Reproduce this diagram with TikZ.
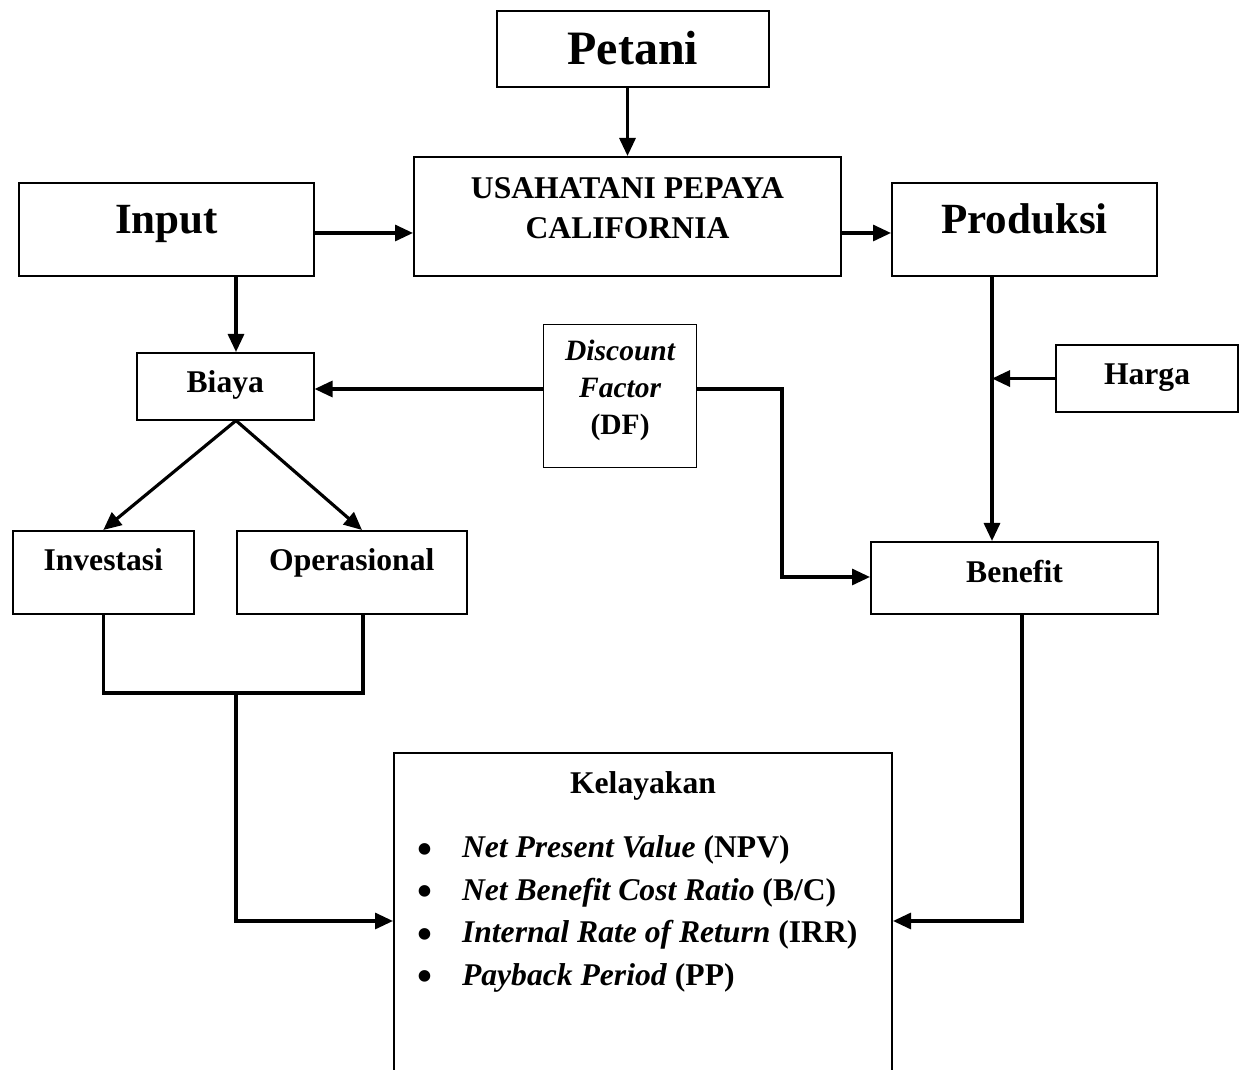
\documentclass[tikz,border=0pt]{standalone}
\usepackage{fontspec}
\usepackage{graphicx}
\setmainfont{Liberation Serif}
\usetikzlibrary{arrows.meta}
\newcommand{\kbul}{\makebox[0.9cm][l]{\raisebox{-0.4ex}{\scalebox{1.35}{\textbullet}}}}
\begin{document}
\begin{tikzpicture}[x=0.02cm,y=-0.02cm,
  box/.style={draw, line width=1.2pt, rectangle, inner sep=0pt, anchor=north west,
    font=\bfseries\fontsize{18}{22.8}\selectfont},
  thinbox/.style={box, line width=0.9pt},
  conn/.style={line width=1.8pt},
  arr/.style={conn, -{Triangle[length=0.36cm,width=0.32cm]}},
]
\useasboundingbox (0,0) rectangle (1242,1070);
\clip (0,0) rectangle (1242,1070);

% boxes
\node[thinbox, minimum width=5.44cm, text height=1.08cm, text depth=0.44cm,
  font=\bfseries\fontsize{27.3}{32}\selectfont] (petani) at (496,10) {Petani};
\node[box, minimum width=8.54cm, text height=0.82cm, text depth=1.56cm] (usaha) at (413,156)
  {\begin{tabular}[t]{@{}c@{}}USAHATANI PEPAYA\\CALIFORNIA\end{tabular}};
\node[box, minimum width=5.9cm, text height=1.0cm, text depth=0.86cm,
  font=\bfseries\fontsize{24.5}{28}\selectfont] (input) at (18,182) {Input};
\node[box, minimum width=5.3cm, text height=1.0cm, text depth=0.86cm,
  font=\bfseries\fontsize{24.5}{28}\selectfont] (produksi) at (891,182) {Produksi};
\node[thinbox, minimum width=3.54cm, text height=0.8cm, text depth=0.54cm] (biaya) at (136,352) {Biaya};
\node[box, line width=0.7pt, minimum width=3.06cm, text height=0.72cm, text depth=2.14cm,
  font=\bfseries\fontsize{16.8}{21}\selectfont] (df) at (543,324)
  {\begin{tabular}[t]{@{}c@{}}\itshape Discount\\\itshape Factor\\(DF)\end{tabular}};
\node[box, minimum width=3.64cm, text height=0.78cm, text depth=0.56cm] (harga) at (1055,344) {Harga};
\node[thinbox, minimum width=3.62cm, text height=0.8cm, text depth=0.86cm] (inv) at (12,530) {Investasi};
\node[thinbox, minimum width=4.6cm, text height=0.8cm, text depth=0.86cm] (op) at (236,530) {Operasional};
\node[box, minimum width=5.74cm, text height=0.8cm, text depth=0.64cm] (benefit) at (870,541) {Benefit};
\node[box, minimum width=9.96cm, text height=0.8cm, text depth=6.4cm,
  font=\bfseries\fontsize{18}{24.2}\selectfont] (kel) at (393,752)
  {\parbox[t]{9.96cm}{\centering Kelayakan\par\vspace{0.44cm}\raggedright
   \hspace*{0.46cm}\kbul\textit{Net Present Value} (NPV)\\
   \hspace*{0.46cm}\kbul\textit{Net Benefit Cost Ratio} (B/C)\\
   \hspace*{0.46cm}\kbul\textit{Internal Rate of Return} (IRR)\\
   \hspace*{0.46cm}\kbul\textit{Payback Period} (PP)}};

% helper coordinates
\coordinate (y233) at (0,233);
\coordinate (y389) at (0,389);
\coordinate (y577) at (0,577);
\coordinate (y921) at (0,921);
\coordinate (x236) at (236,0);
\coordinate (x362) at (362,0);
\coordinate (x992) at (992,0);
\coordinate (x1022) at (1022,0);
\coordinate (dfbend) at (782,389);
\coordinate (jr) at (363,693);

% connectors
\draw[arr] (usaha.north |- petani.south) -- (usaha.north);
\draw[arr] (input.east |- y233) -- (usaha.west |- y233);
\draw[arr] (usaha.east |- y233) -- (produksi.west |- y233);
\draw[arr] (input.south -| x236) -- (biaya.north -| x236);
\draw[arr] (df.west |- y389) -- (biaya.east |- y389);
\draw[arr] (df.east |- y389) -- (dfbend) |- (benefit.west |- y577);
\draw[arr] (produksi.south -| x992) -- (benefit.north -| x992);
\draw[arr] (harga.west) -- (harga.west -| x992);
\draw[arr] (biaya.south -| x236) -- (inv.north);
\draw[arr] (biaya.south -| x236) -- (op.north -| x362);
\draw[conn] (inv.south) |- (jr) -- (op.south -| jr);
\draw[arr] (x236 |- jr) |- (kel.west |- y921);
\draw[arr] (benefit.south -| x1022) |- (kel.east |- y921);
\end{tikzpicture}
\end{document}
